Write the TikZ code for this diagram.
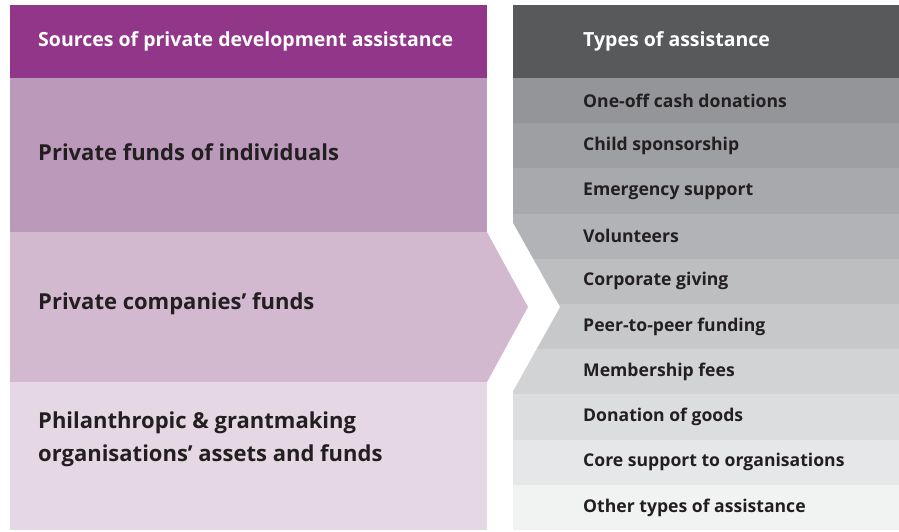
\documentclass[tikz,border=0pt]{standalone}
\usepackage{fontspec}
\setmainfont{Open Sans}
\usepackage{xcolor}
\definecolor{src-head}{HTML}{92368A}
\definecolor{src-one}{HTML}{BA99BA}
\definecolor{src-two}{HTML}{D3B9D0}
\definecolor{src-three}{HTML}{E5D7E3}
\definecolor{typ-head}{HTML}{58595B}
\definecolor{typ-1}{HTML}{939598}
\definecolor{typ-2}{HTML}{9D9FA2}
\definecolor{typ-3}{HTML}{A7A9AC}
\definecolor{typ-4}{HTML}{B1B3B6}
\definecolor{typ-5}{HTML}{BCBEC0}
\definecolor{typ-6}{HTML}{C7C8CA}
\definecolor{typ-7}{HTML}{D1D3D4}
\definecolor{typ-8}{HTML}{DCDDDE}
\definecolor{typ-9}{HTML}{E6E7E8}
\definecolor{typ-10}{HTML}{F1F2F2}
\definecolor{ink}{HTML}{231F20}

\begin{document}
\begin{tikzpicture}[x=1pt, y=-1pt,
        headtext/.style={anchor=west, inner sep=0pt, text=white,
            font=\bfseries\fontsize{19.5}{22}\selectfont},
        srctext/.style={anchor=west, inner sep=0pt, text=ink, align=left,
            font=\bfseries\fontsize{22}{33}\selectfont},
        typtext/.style={anchor=west, inner sep=0pt, text=ink,
            font=\bfseries\fontsize{17.6}{20}\selectfont}]
      \useasboundingbox (0,0) rectangle (899,531);
      % types (right)
      \fill[typ-head] (513,5) rectangle (899,78);
      \fill[typ-1] (513,78) rectangle (899,123.2);
      \fill[typ-2] (513,123.2) rectangle (899,168.4);
      \fill[typ-3] (513,168.4) rectangle (899,213.6);
      \fill[typ-4] (513,213.6) rectangle (899,258.8);
      \fill[typ-5] (513,258.8) rectangle (899,304);
      \fill[typ-6] (513,304) rectangle (899,349.2);
      \fill[typ-7] (513,349.2) rectangle (899,394.4);
      \fill[typ-8] (513,394.4) rectangle (899,439.6);
      \fill[typ-9] (513,439.6) rectangle (899,484.8);
      \fill[typ-10] (513,484.8) rectangle (899,530);
      \fill[white] (513,223) -- (560,307) -- (513,391) -- cycle;
      \node[headtext] (typhead) at (583,41) {Types of assistance};
      \node[typtext] (typ1) at (583,100.6) {One-off cash donations};
      \node[typtext] (typ2) at (583,145.8) {Child sponsorship};
      \node[typtext] (typ3) at (583,191) {Emergency support};
      \node[typtext] (typ4) at (583,236.2) {Volunteers};
      \node[typtext] (typ5) at (583,281.4) {Corporate giving};
      \node[typtext] (typ6) at (583,326.6) {Peer-to-peer funding};
      \node[typtext] (typ7) at (583,371.8) {Membership fees};
      \node[typtext] (typ8) at (583,417) {Donation of goods};
      \node[typtext] (typ9) at (583,462.2) {Core support to organisations};
      \node[typtext] (typ10) at (583,507.4) {Other types of assistance};
      % sources (left)
      \fill[src-head] (10,5) rectangle (487,78);
      \fill[src-one] (10,78) rectangle (487,232);
      \fill[src-two] (10,232) -- (487,232) -- (528,307) -- (487,382)
            -- (10,382) -- cycle;
      \fill[src-three] (10,382) rectangle (487,530);
      \node[headtext] (srchead) at (38,41) {Sources of private development assistance};
      \node[srctext] (src1) at (38,152) {Private funds of individuals};
      \node[srctext] (src2) at (38,304) {Private companies’ funds};
      \node[srctext] (src3) at (38,439.5)
            {Philanthropic \& grantmaking\\organisations’ assets and funds};
    \end{tikzpicture}
\end{document}
